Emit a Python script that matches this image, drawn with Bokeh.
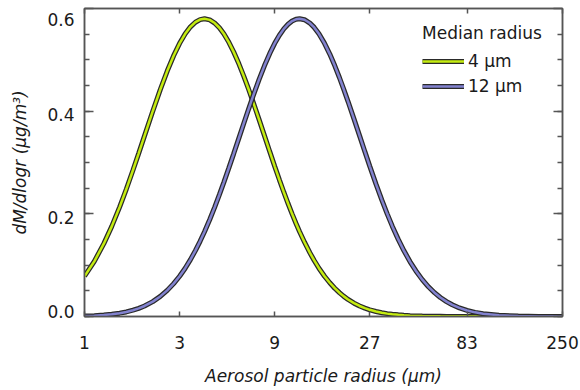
from bokeh.plotting import figure
from bokeh.models import (Range1d, FixedTicker, LinearAxis, LogAxis, PrintfTickFormatter,
                          Legend, LegendItem, ColumnDataSource, CustomLabelingPolicy)
from bokeh.embed import file_html
from bokeh.resources import INLINE

# ---- data ----
radius_um = [1.0, 1.12, 1.25, 1.37, 1.5, 1.62, 1.75, 1.87, 2.0, 2.2, 2.4, 2.6, 2.8, 3.0, 3.2,
             3.4, 3.6, 3.8, 4.0, 4.25, 4.5, 4.75, 5.0, 5.3, 5.6, 5.95, 6.3, 6.65, 7.0, 7.5,
             8.0, 8.5, 9.0, 9.5, 10, 10.5, 11, 11.5, 12, 12.7, 13.5, 14.2, 15, 16, 17, 18,
             19, 20, 21, 22.5, 24, 25.5, 27, 29, 31, 33, 35, 37.5, 40, 43, 46, 49.5, 53, 57,
             61, 65.5, 70, 76, 83, 91, 100, 120, 150, 190, 250]
mass_4um = [0.0785, 0.1074, 0.1419, 0.1756, 0.2131, 0.2478, 0.2849, 0.3178, 0.3518, 0.3999,
            0.4421, 0.4781, 0.5081, 0.5321, 0.5508, 0.5643, 0.5733, 0.5784, 0.5800, 0.5778,
            0.5717, 0.5625, 0.5508, 0.5341, 0.5155, 0.4922, 0.4679, 0.4432, 0.4187, 0.3845,
            0.3518, 0.3211, 0.2925, 0.2663, 0.2421, 0.2201, 0.2000, 0.1818, 0.1652, 0.1447,
            0.1244, 0.1092, 0.0941, 0.0785, 0.0657, 0.0551, 0.0464, 0.0392, 0.0332, 0.0260,
            0.0205, 0.0163, 0.0130, 0.0098, 0.0074, 0.0056, 0.0043, 0.0032, 0.0023, 0.0016,
            0.0012, 0.0008, 0.0006, 0.0004, 0.0003, 0.0002, 0.0001, 0.0001, 0.0, 0.0,
            0.0, 0.0, 0.0, 0.0, 0.0]
mass_12um = [0.0009, 0.0017, 0.0028, 0.0043, 0.0065, 0.0089, 0.0123, 0.0159, 0.0205, 0.0290,
             0.0391, 0.0509, 0.0641, 0.0785, 0.0941, 0.1108, 0.1284, 0.1465, 0.1652, 0.1890,
             0.2131, 0.2373, 0.2613, 0.2895, 0.3169, 0.3475, 0.3766, 0.4036, 0.4287, 0.4609,
             0.4888, 0.5125, 0.5322, 0.5480, 0.5603, 0.5693, 0.5755, 0.5789, 0.5800, 0.5781,
             0.5717, 0.5632, 0.5508, 0.5321, 0.5112, 0.4888, 0.4656, 0.4421, 0.4187, 0.3845,
             0.3518, 0.3211, 0.2925, 0.2580, 0.2272, 0.2000, 0.1760, 0.1502, 0.1284, 0.1065,
             0.0887, 0.0718, 0.0584, 0.0464, 0.0370, 0.0290, 0.0228, 0.0167, 0.0118, 0.0081,
             0.0053, 0.0023, 0.0008, 0.0002, 0.0]
series_labels = ["4 \u03bcm", "12 \u03bcm"]
legend_title = "Median radius"
x_ticks = [1, 3, 9, 27, 83, 250]
y_ticks = [0.0, 0.2, 0.4, 0.6]
x_title = "Aerosol particle radius (\u03bcm)"
y_title = "dM/dlogr (\u03bcg/m\u00b3)"

FONT = "DejaVu Sans"
FS = "17px"
TXT = "#1a1a1a"
FRAME = "#555555"
GREEN = "#c4ec10"
PURPLE = "#8282cf"
EDGE = "#2a2a2a"

Y0, Y1 = 0.0, 0.6
FRAME_H = 308
p = figure(width=579, height=389, x_axis_type="log",
           x_range=Range1d(1, 250), y_range=Range1d(Y0, Y1),
           output_backend="svg", toolbar_location=None,
           min_border_left=84, min_border_right=17, min_border_top=8, min_border_bottom=73)
p.grid.visible = False
p.outline_line_color = FRAME
p.outline_line_width = 1.5
p.background_fill_color = "white"
p.border_fill_color = "white"

minor_y = [i * 0.05 for i in range(13)]

no_labels = CustomLabelingPolicy(code="""
const all = Array.from(indices);
for (const i of all) { indices.unset(i) }
return indices
""")

def style_lines(ax):
    ax.axis_line_color = FRAME
    ax.axis_line_width = 1.5
    ax.major_tick_line_color = FRAME
    ax.major_tick_line_width = 1.5
    ax.minor_tick_line_color = FRAME
    ax.minor_tick_line_width = 1.5

# bottom axis
xa = p.xaxis[0]
xa.ticker = FixedTicker(ticks=x_ticks, minor_ticks=[])
xa.formatter = PrintfTickFormatter(format="%d")
xa.major_tick_in = 5
xa.major_tick_out = 0
xa.major_label_standoff = 19
xa.axis_label = x_title
xa.axis_label_standoff = 14
style_lines(xa)
xa.major_label_text_font = FONT
xa.major_label_text_font_size = FS
xa.major_label_text_color = TXT
xa.axis_label_text_font = FONT
xa.axis_label_text_font_size = FS
xa.axis_label_text_font_style = "italic"
xa.axis_label_text_color = TXT

# left axis: ticks only (next to the frame)
ya = p.yaxis[0]
ya.ticker = FixedTicker(ticks=y_ticks, minor_ticks=minor_y)
ya.major_tick_in = 9
ya.major_tick_out = 0
ya.minor_tick_in = 5
ya.minor_tick_out = 0
ya.major_label_standoff = 0
ya.major_label_text_font_size = "1px"
ya.major_label_policy = no_labels
style_lines(ya)

# left labels: placed with small pixel nudges like the reference
px = (Y1 - Y0) / FRAME_H
nudges = [5, -4, -3, -11]
label_pos = [v + n * px for v, n in zip(y_ticks, nudges)]
ylab = LinearAxis(ticker=FixedTicker(ticks=label_pos, minor_ticks=[]),
                  formatter=PrintfTickFormatter(format="%.1f"),
                  major_tick_in=0, major_tick_out=0, minor_tick_in=0, minor_tick_out=0,
                  axis_line_color=None, major_tick_line_color=None, minor_tick_line_color=None,
                  major_label_standoff=6,
                  major_label_text_font=FONT, major_label_text_font_size=FS,
                  major_label_text_color=TXT,
                  axis_label=y_title, axis_label_standoff=14,
                  axis_label_text_font=FONT, axis_label_text_font_size=FS,
                  axis_label_text_font_style="italic", axis_label_text_color=TXT)
p.add_layout(ylab, "left")

# top and right axes (ticks only, no labels)
top = LogAxis(ticker=FixedTicker(ticks=x_ticks, minor_ticks=[]),
              major_tick_in=5, major_tick_out=0, major_label_standoff=0,
              major_label_text_font_size="1px", major_label_policy=no_labels)
right = LinearAxis(ticker=FixedTicker(ticks=y_ticks, minor_ticks=minor_y),
                   major_tick_in=9, major_tick_out=0, minor_tick_in=5, minor_tick_out=0,
                   major_label_standoff=0, major_label_text_font_size="1px",
                   major_label_policy=no_labels)
style_lines(top)
style_lines(right)
p.add_layout(top, "above")
p.add_layout(right, "right")

src = ColumnDataSource(dict(r=radius_um, m4=mass_4um, m12=mass_12um))
o1 = p.line("r", "m4", source=src, line_color=EDGE, line_width=5)
c1 = p.line("r", "m4", source=src, line_color=GREEN, line_width=2.5)
o2 = p.line("r", "m12", source=src, line_color=EDGE, line_width=5)
c2 = p.line("r", "m12", source=src, line_color=PURPLE, line_width=2.5)

legend = Legend(items=[LegendItem(label=series_labels[0], renderers=[o1, c1]),
                       LegendItem(label=series_labels[1], renderers=[o2, c2])],
                title=legend_title, location=(338, 220), margin=0, padding=0,
                border_line_color=None, background_fill_alpha=0,
                title_text_font=FONT, title_text_font_size=FS, title_text_font_style="normal",
                title_text_color=TXT, title_standoff=8,
                label_text_font=FONT, label_text_font_size=FS, label_text_color=TXT,
                glyph_width=42, glyph_height=20, label_standoff=4, spacing=5)
p.add_layout(legend)

open("out.html", "w").write(file_html(p, INLINE))
